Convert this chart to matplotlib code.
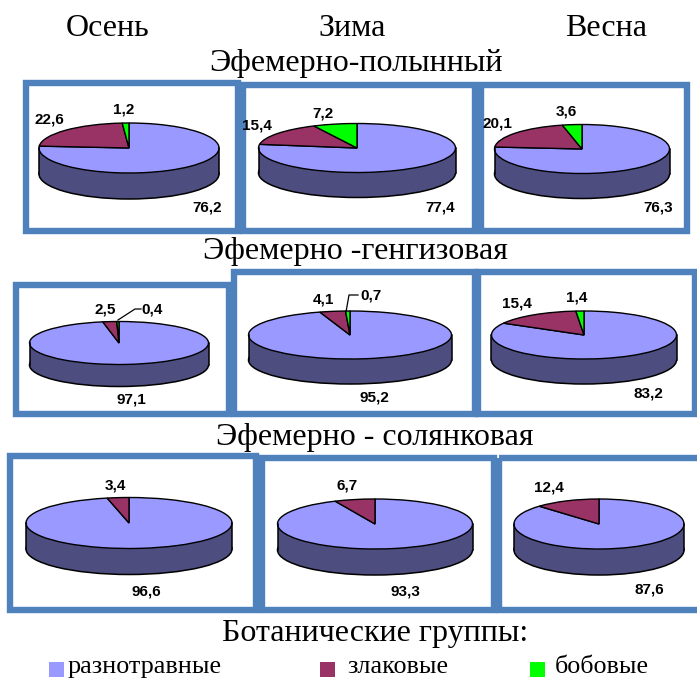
import matplotlib
matplotlib.use('Agg')
import matplotlib.pyplot as plt
from matplotlib.patches import Rectangle, Ellipse

W, H = 697, 681

seasons = ['Осень', 'Зима', 'Весна']
communities = ['Эфемерно-полынный', 'Эфемерно -генгизовая', 'Эфемерно - солянковая']
groups = ['разнотравные', 'злаковые', 'бобовые']
legend_title = 'Ботанические группы:'

# share of each group, one row of panels per community
row1 = [[76.2, 22.6, 1.2], [77.4, 15.4, 7.2], [76.3, 20.1, 3.6]]
row2 = [[97.1, 2.5, 0.4], [95.2, 4.1, 0.7], [83.2, 15.4, 1.4]]
row3 = [[96.6, 3.4], [93.3, 6.7], [87.6, 12.4]]

colors = ['#9999FF', '#993366', '#00FF00']
wall_color = '#4D4D80'
frame_color = '#4F81BD'

# frames: left, top, right, bottom (pixels, along the stroke centre)
frames = [
    (25.5, 83, 238, 230.5), (243, 85, 475, 230.5), (481, 85, 687, 230.5),
    (16, 285, 229, 414), (234, 272, 475, 413.5), (478, 272, 695, 413.5),
    (9.5, 455.5, 256, 609.5), (262, 457.5, 494, 609.5), (499, 457.5, 701, 609.5),
]
# pies: centre x, centre y, x radius, y radius, depth
pies = [
    (129, 148, 90, 25, 26), (357, 148, 98.5, 24.5, 25), (582, 149, 87.5, 24.5, 25),
    (119, 343, 89.5, 21.5, 22), (350, 335, 101.5, 24, 25), (584, 335, 92.5, 24, 25),
    (129, 523, 103, 25.5, 26), (375, 524, 97.5, 25, 26), (599, 524, 85, 25, 26),
]
# value label anchors for each panel, same order as the slices
label_pos = [
    [(207, 207), (49, 119), (124, 110)],
    [(440, 208), (257, 126), (323, 113)],
    [(658, 207), (497, 124), (566, 112)],
    [(131, 400), (105, 309), (152, 309)],
    [(374, 397), (323, 299), (371, 296)],
    [(648, 393), (517, 303), (577, 298)],
    [(146, 592), (115, 486)],
    [(405, 592), (347, 486)],
    [(649, 589), (549, 488)],
]
panels = row1 + row2 + row3

fig = plt.figure(figsize=(W / 100, H / 100), dpi=100)

for (cx, cy, rx, ry, depth), values in zip(pies, panels):
    left = cx - rx
    bottom = H - (cy + ry + depth)
    ax = fig.add_axes([left / W, bottom / H, 2 * rx / W, (2 * ry + depth) / H])
    d = depth / ry
    # side wall of the disc sits under the wedges
    ax.add_patch(Ellipse((0, -d), 2, 2, fc=wall_color, ec='black', lw=1.1, clip_on=False))
    ax.add_patch(Rectangle((-1, -d), 2, d, fc=wall_color, ec='none', clip_on=False))
    ax.plot([-1, -1], [0, -d], color='black', lw=1.1, clip_on=False)
    ax.plot([1, 1], [0, -d], color='black', lw=1.1, clip_on=False)
    wedges, _ = ax.pie(values, colors=colors[:len(values)], startangle=90, counterclock=False,
                       wedgeprops={'edgecolor': 'black', 'linewidth': 1.0, 'clip_on': False})
    ax.set_aspect('auto')
    ax.set_xlim(-1, 1)
    ax.set_ylim(-1 - d, 1)

# frames, titles and labels go on a transparent pixel-sized layer on top
top = fig.add_axes([0, 0, 1, 1], zorder=5)
top.set_xlim(0, W)
top.set_ylim(H, 0)
top.axis('off')

for x0, y0, x1, y1 in frames:
    top.add_patch(Rectangle((x0, y0), x1 - x0, y1 - y0, fc='none', ec=frame_color, lw=4.6, joinstyle='miter'))

serif = 'Liberation Serif'
for name, x in zip(seasons, [108, 352, 606]):
    top.text(x, 28, name, family=serif, fontsize=23, ha='center', va='center')
for name, x, y in zip(communities, [356, 355, 375], [64, 252, 438]):
    top.text(x, y, name, family=serif, fontsize=23, ha='center', va='center')
top.text(375, 633, legend_title, family=serif, fontsize=23, ha='center', va='center')

for values, positions in zip(panels, label_pos):
    for v, (x, y) in zip(values, positions):
        top.text(x, y, f'{v}'.replace('.', ','), family='Liberation Sans', fontweight='bold',
                 fontsize=11, ha='center', va='center')

# leader lines of the two thin slices
top.plot([118, 135, 141], [320, 309, 309], color='black', lw=0.9)
top.plot([346, 349, 358], [312, 295, 295], color='black', lw=0.9)

for name, color, sq_x, tx in zip(groups, colors, [49, 320, 530], [68, 347, 555]):
    top.add_patch(Rectangle((sq_x, 662), 15, 15, fc=color, ec='none'))
    top.text(tx, 667, name, family=serif, fontsize=18.8, ha='left', va='center')

fig.savefig('out.png', dpi=100)
